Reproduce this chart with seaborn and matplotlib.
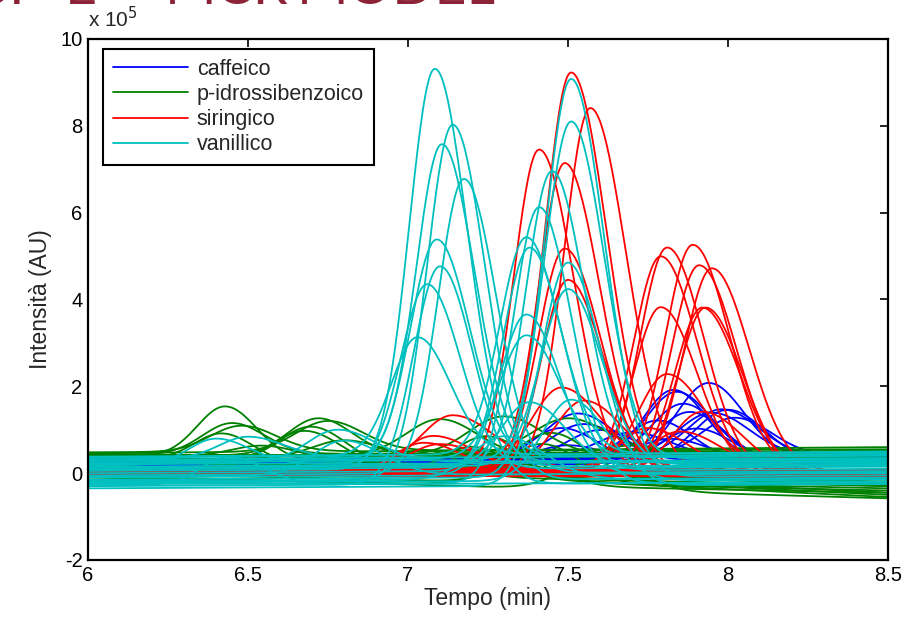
import matplotlib
matplotlib.use("Agg")
import matplotlib.pyplot as plt
from matplotlib.lines import Line2D
import seaborn as sns
import pandas as pd
import numpy as np

# classi e colori (stile MATLAB b, g, r, c)
classi = ["caffeico", "p-idrossibenzoico", "siringico", "vanillico"]
colori = ["#0000FF", "#008000", "#FF0000", "#00BFBF"]

# picchi: centro (min), altezza (x1e5), larghezza a sinistra (sigma, min)
# linea di base: valore a 6 min e a 8.5 min (x1e5)
caf_mu = [7.94, 7.83, 7.84, 8.00, 7.98, 7.86, 7.88, 7.95, 7.78, 7.53, 7.55, 7.48, 7.60, 7.70, 7.90, 8.02, 7.82, 7.50]
caf_h = [1.75, 1.64, 1.52, 1.22, 1.10, 1.30, 1.20, 1.00, 0.95, 1.05, 0.85, 0.80, 0.70, 0.60, 0.80, 0.90, 0.50, 0.40]
caf_sd = [0.100, 0.095, 0.097, 0.105, 0.105, 0.100, 0.103, 0.105, 0.100, 0.105, 0.105, 0.100, 0.105, 0.110, 0.105, 0.105, 0.105, 0.105]
caf_b0 = [0.25, 0.22, 0.28, 0.20, 0.26, 0.24, 0.18, 0.30, 0.22, 0.27, 0.25, 0.21, 0.23, 0.26, 0.19, 0.28, 0.24, 0.20]
caf_b1 = [0.35, 0.30, 0.38, 0.25, 0.40, 0.32, 0.22, 0.42, 0.28, 0.36, 0.30, 0.26, 0.33, 0.38, 0.24, 0.40, 0.31, 0.27]

pib_mu = [6.43, 6.45, 6.42, 6.48, 6.70, 6.72, 6.68, 6.75, 7.25, 7.30, 7.20, 7.45, 7.42, 7.50, 7.60, 7.10, 7.05, 6.55, 6.80, 7.35, 7.70, 7.90]
pib_h = [1.20, 0.72, 0.65, 0.60, 0.88, 0.85, 0.78, 0.70, 0.95, 0.90, 0.75, 1.05, 0.90, 0.80, 0.70, 0.85, 0.60, 0.30, 0.40, 0.50, 0.30, 0.25]
pib_sd = [0.088, 0.092, 0.088, 0.098, 0.100, 0.095, 0.100, 0.100, 0.110, 0.110, 0.105, 0.110, 0.105, 0.110, 0.110, 0.105, 0.100, 0.100, 0.100, 0.110, 0.110, 0.110]
pib_b0 = [0.45, 0.42, 0.38, 0.48, 0.44, 0.40, 0.36, 0.46, 0.35, 0.42, 0.05, 0.40, 0.00, 0.38, -0.05, 0.43, 0.10, 0.47, 0.30, -0.10, 0.41, 0.34]
pib_b1 = [-0.20, 0.50, -0.30, 0.55, -0.45, 0.45, -0.25, 0.60, -0.55, 0.40, -0.35, -0.50, -0.40, 0.52, -0.58, 0.35, -0.30, -0.15, 0.48, -0.45, 0.30, -0.22]

sir_mu = [7.51, 7.57, 7.41, 7.49, 7.49, 7.50, 7.48, 7.55, 7.14, 7.08, 7.05, 7.10,
          7.81, 7.89, 7.79, 7.91, 7.95, 7.79, 7.93, 7.92, 7.81, 7.92, 7.75, 7.85]
sir_h = [9.24, 8.36, 7.51, 7.05, 5.14, 4.52, 1.90, 1.68, 1.22, 0.85, 0.75, 0.60,
         5.20, 5.20, 4.95, 4.84, 4.68, 3.82, 3.90, 3.80, 2.20, 1.45, 1.00, 0.90]
sir_sd = [0.082, 0.082, 0.080, 0.080, 0.082, 0.082, 0.095, 0.095, 0.100, 0.095, 0.095, 0.095,
          0.084, 0.084, 0.084, 0.086, 0.086, 0.084, 0.086, 0.086, 0.090, 0.095, 0.095, 0.095]
sir_b0 = [0.05, 0.10, 0.00, 0.14, 0.08, -0.05, 0.12, 0.03, 0.15, 0.06, -0.02, 0.10,
          0.04, 0.09, 0.13, 0.01, 0.07, 0.11, -0.04, 0.06, 0.14, 0.02, 0.08, 0.12]
sir_b1 = [-0.05, 0.02, -0.10, 0.06, 0.00, -0.08, 0.04, -0.03, 0.07, -0.06, -0.09, 0.03,
          -0.02, 0.05, 0.01, -0.07, 0.03, -0.04, -0.10, 0.00, 0.06, -0.05, 0.02, 0.04]

van_mu = [7.084, 7.14, 7.106, 7.175, 7.09, 7.10, 7.06, 7.03,
          7.51, 7.51, 7.41, 7.45, 7.38, 7.37, 7.50, 7.50, 7.37, 7.37, 7.51, 7.38,
          6.40, 6.44, 6.50, 6.80, 6.78, 7.30]
van_h = [9.17, 8.18, 7.21, 6.78, 5.14, 5.02, 4.26, 2.72,
         9.17, 7.79, 6.36, 6.75, 5.14, 5.00, 5.14, 4.06, 3.70, 2.83, 1.87, 1.50,
         0.60, 0.65, 0.50, 0.80, 0.75, 1.00]
van_sd = [0.080, 0.080, 0.080, 0.080, 0.082, 0.082, 0.082, 0.082,
          0.082, 0.082, 0.080, 0.080, 0.082, 0.082, 0.082, 0.084, 0.084, 0.084, 0.088, 0.088,
          0.085, 0.085, 0.090, 0.095, 0.095, 0.100]
van_b0 = [0.10, -0.20, 0.30, -0.05, 0.20, -0.30, 0.05, 0.35, -0.15, 0.25, -0.25, 0.15, 0.00,
          0.38, -0.35, 0.12, -0.10, 0.28, -0.22, 0.08, 0.18, -0.28, 0.32, -0.08, 0.22, -0.18]
van_b1 = [0.20, -0.10, 0.45, 0.05, 0.30, -0.20, 0.15, 0.50, -0.05, 0.35, -0.22, 0.25, 0.10,
          0.48, -0.25, 0.22, 0.00, 0.40, -0.15, 0.18, 0.28, -0.20, 0.42, 0.02, 0.32, -0.12]

# coda dei picchi: rapporto tra larghezza a destra e a sinistra
coda = {"caffeico": 1.1, "p-idrossibenzoico": 1.1, "siringico": 1.35, "vanillico": 1.25}

picchi = {
    "caffeico": (caf_mu, caf_h, caf_sd, caf_b0, caf_b1),
    "p-idrossibenzoico": (pib_mu, pib_h, pib_sd, pib_b0, pib_b1),
    "siringico": (sir_mu, sir_h, sir_sd, sir_b0, sir_b1),
    "vanillico": (van_mu, van_h, van_sd, van_b0, van_b1),
}

tempo = np.linspace(6, 8.5, 601)

righe = []
for classe in classi:
    mu, h, sd, b0, b1 = picchi[classe]
    for i in range(len(mu)):
        base = b0[i] + (b1[i] - b0[i]) * (tempo - 6) / 2.5
        s = np.where(tempo < mu[i], sd[i], sd[i] * coda[classe])
        segnale = base + h[i] * np.exp(-0.5 * ((tempo - mu[i]) / s) ** 2)
        righe.append(pd.DataFrame({"tempo": tempo, "intensita": segnale * 1e5,
                                   "classe": classe, "curva": f"{classe}_{i}"}))
df = pd.concat(righe, ignore_index=True)

sns.set_style("white")
plt.rcParams["font.family"] = ["Liberation Sans", "DejaVu Sans"]

fig = plt.figure(figsize=(9.23, 6.17), dpi=100)
ax = fig.add_axes([0.0953, 0.0924, 0.8667, 0.8444])

sns.lineplot(data=df, x="tempo", y="intensita", hue="classe", hue_order=classi,
             palette=colori, units="curva", estimator=None, sort=False,
             lw=1.3, legend=False, ax=ax)

ax.set_xlim(6, 8.5)
ax.set_ylim(-2e5, 10e5)
ax.set_xticks([6, 6.5, 7, 7.5, 8, 8.5])
ax.set_xticklabels(["6", "6.5", "7", "7.5", "8", "8.5"])
ax.set_yticks(np.arange(-2e5, 10.1e5, 2e5))
ax.set_yticklabels(["-2", "0", "2", "4", "6", "8", "10"])
ax.tick_params(direction="in", length=6, width=1.2, top=True, right=True,
               labelsize=14.5, colors="black", pad=4)
for sp in ax.spines.values():
    sp.set_visible(True)
    sp.set_color("black")
    sp.set_linewidth(1.6)

ax.set_xlabel("Tempo (min)", fontsize=16.5, labelpad=2)
ax.set_ylabel("Intensità (AU)", fontsize=16.5, labelpad=6)
fig.text(88 / 923, 1 - 27 / 617, r"x 10$^{5}$", fontsize=15, ha="left", va="baseline")

handles = [Line2D([0], [0], color=c, lw=1.3) for c in colori]
leg = ax.legend(handles, classi, loc="upper left", bbox_to_anchor=(0.019, 0.981),
                borderaxespad=0, fontsize=15.5, handlelength=3.5, handletextpad=0.4,
                labelspacing=0.2, fancybox=False, framealpha=1, borderpad=0.45)
leg.get_frame().set_edgecolor("black")
leg.get_frame().set_linewidth(1.5)

# titolo della diapositiva, tagliato dal bordo superiore
rosso = "#8C2336"
for testo, xpx in [("ANALISI", 25), ("E", 65), ("MCR", 165), ("MODEL", 297)]:
    fig.text(xpx / 923, 1 - 4 / 617, testo, fontsize=40, color=rosso,
             family="Lato", fontweight="normal",
             ha="right" if testo == "ANALISI" else "left", va="baseline")

plt.savefig("out.png", dpi=100)
plt.close()
